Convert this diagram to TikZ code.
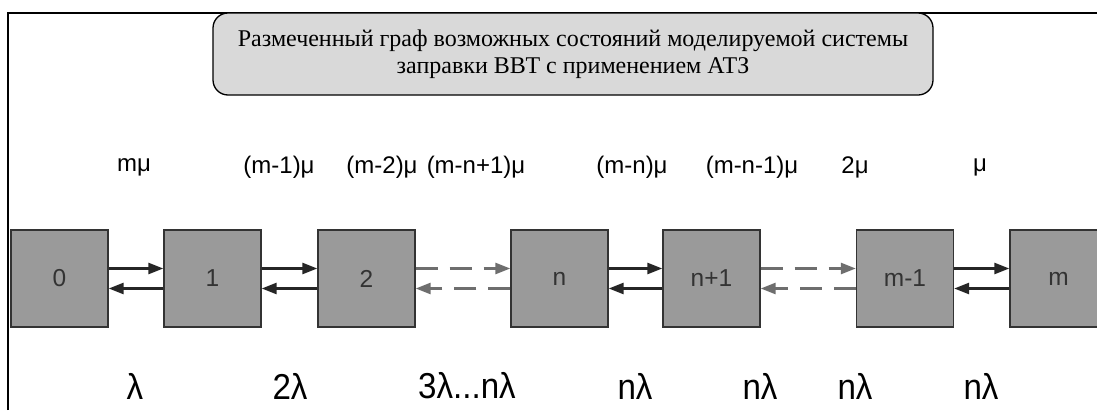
\documentclass[tikz,border=0pt]{standalone}
\usepackage{fontspec}
\setmainfont{Liberation Serif}
\newfontfamily\lsans{Liberation Sans}
\usetikzlibrary{arrows.meta}
\definecolor{boxfill}{HTML}{9A9A9A}
\definecolor{boxline}{HTML}{333333}
\definecolor{titlefill}{HTML}{D9D9D9}
\definecolor{dashgray}{HTML}{6E6E6E}
\tikzset{
  state/.style={draw=boxline, line width=1.3pt, fill=boxfill, minimum width=97pt, minimum height=97pt, inner sep=0pt,
    font=\lsans\fontsize{24.5}{28}\selectfont, text=boxline},
  solidarr/.style={line width=2.6pt, draw=black!85, -{Triangle[length=15pt,width=11pt]}},
  dasharr/.style={line width=2.6pt, draw=dashgray, dash pattern=on 22pt off 12pt, -{Triangle[length=15pt,width=11pt]}},
  toplab/.style={font=\lsans\fontsize{24}{28}\selectfont, inner sep=0pt},
  botlab/.style={font=\lsans\fontsize{36}{40}\selectfont, inner sep=0pt, xscale=0.92},
  titlebox/.style={draw=black, line width=1.3pt, fill=titlefill, rounded corners=15pt, minimum width=720pt, minimum height=82pt,
    align=center, font=\fontsize{24}{27}\selectfont}
}
\begin{document}
\begin{tikzpicture}[x=1pt,y=-1pt]
\useasboundingbox (0,0) rectangle (1097,410);
% frame
\draw[line width=2pt] (8,410) -- (8,12.5) -- (1097,12.5);
% title
\node[titlebox] (title) at (573,54) {Размеченный граф возможных состояний моделируемой системы\\заправки ВВТ с применением АТЗ};
% states
\node[state] (b0) at (59.5,278.5) {\raisebox{-2pt}{0}};
\node[state] (b1) at (212.5,278.5) {\raisebox{-2pt}{1}};
\node[state] (b2) at (366.5,278.5) {\raisebox{-2pt}{2}};
\node[state] (bn) at (559.5,278.5) {\raisebox{-2pt}{n}};
\node[state] (bn1) at (711.5,278.5) {\raisebox{-2pt}{n+1}};
\node[state] (bm1) at (905,278.5) {\raisebox{-2pt}{m-1}};
\node[state] (bm) at (1058.5,278.5) {\raisebox{-2pt}{m}};
% arrows
\foreach \a/\b in {b0/b1,b1/b2,bn/bn1,bm1/bm}{
  \draw[solidarr] ([yshift=10pt]\a.east) -- ([yshift=10pt]\b.west);
  \draw[solidarr] ([yshift=-10pt]\b.west) -- ([yshift=-10pt]\a.east);
}
\foreach \a/\b in {b2/bn,bn1/bm1}{
  \draw[dasharr] ([yshift=10pt]\a.east) -- ([yshift=10pt]\b.west);
  \draw[dasharr] ([yshift=-10pt]\b.west) -- ([yshift=-10pt]\a.east);
}
% top labels
\node[toplab] (t1) at (134,167) {mμ};
\node[toplab] (t2) at (279,167) {(m-1)μ};
\node[toplab] (t3) at (382,167) {(m-2)μ};
\node[toplab] (t4) at (476,167) {(m-n+1)μ};
\node[toplab] (t5) at (632,167) {(m-n)μ};
\node[toplab] (t6) at (752,167) {(m-n-1)μ};
\node[toplab] (t7) at (855,167) {2μ};
\node[toplab] (t8) at (980,167) {μ};
% bottom labels
\node[botlab] (l1) at (135,386) {λ};
\node[botlab] (l2) at (290,386) {2λ};
\node[botlab] (l3) at (467,386) {3λ...nλ};
\node[botlab] (l4) at (635,386) {nλ};
\node[botlab] (l5) at (760,386) {nλ};
\node[botlab] (l6) at (855,386) {nλ};
\node[botlab] (l7) at (981,386) {nλ};
\end{tikzpicture}
\end{document}
